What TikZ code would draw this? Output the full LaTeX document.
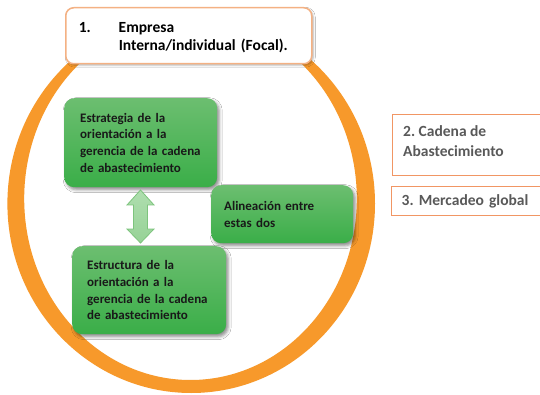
\documentclass[tikz,border=0pt]{standalone}
\usepackage{fontspec}
\setmainfont{Carlito}
\frenchspacing
\usetikzlibrary{shadows.blur}
\definecolor{ringor}{RGB}{247,153,43}
\definecolor{boxor}{RGB}{244,177,131}
\definecolor{rbor}{RGB}{241,150,100}
\definecolor{gtop}{RGB}{108,190,112}
\definecolor{gbot}{RGB}{58,174,72}
\definecolor{graytext}{RGB}{89,89,89}
\definecolor{arrtop}{RGB}{175,222,175}
\definecolor{arrbot}{RGB}{150,210,150}
\definecolor{arrdraw}{RGB}{125,196,125}
\begin{document}
\begin{tikzpicture}[x=1pt,y=-1pt,
  gbox/.style={rounded corners=10pt, top color=gtop, bottom color=gbot, draw=none,
    blur shadow={shadow xshift=2pt, shadow yshift=-2.5pt, shadow blur radius=3pt, shadow opacity=45},
    align=left, inner ysep=0pt, anchor=north west,
    font=\fontsize{13}{16.7}\selectfont\bfseries, text=black!90},
  topbox/.style={rounded corners=8pt, draw=boxor, line width=1.5pt, fill=white,
    blur shadow={shadow xshift=1.5pt, shadow yshift=-1.5pt, shadow blur radius=2pt, shadow opacity=30},
    anchor=north west, align=left, inner ysep=0pt,
    font=\fontsize{15.5}{18.3}\selectfont\bfseries, text=black},
  rbox/.style={draw=rbor, line width=1.3pt, fill=white, anchor=north west, inner ysep=0pt},
  rtext/.style={align=left, inner sep=0pt, font=\fontsize{15.5}{20}\selectfont\bfseries, text=graytext}
]
\useasboundingbox (0,0) rectangle (540,395);
\clip (0,0) rectangle (540,395);
\fill[white] (0,0) rectangle (540,395);

% orange ring
\fill[ringor, even odd rule]
  (191.2,203.6) ellipse [x radius=183.8, y radius=189.4]
  (190.5,198.7) ellipse [x radius=166.3, y radius=181.3];

% top box
\node[topbox, minimum width=246pt, minimum height=56pt, text width=220pt, inner xsep=13pt] (emp) at (65,7)
  {\raisebox{-2pt}[\height][\depth]{\begin{tabular}{@{}p{40pt}@{}l@{}}1.&Empresa\\&Interna/individual (Focal).\end{tabular}}};

% green boxes
\node[gbox, minimum width=153pt, minimum height=89pt, text width=121pt, inner xsep=16pt] (estr) at (64,98)
  {Estrategia de la\\orientación a la\\gerencia de la cadena\\de abastecimiento};
\node[gbox, minimum width=142pt, minimum height=58pt, text width=116pt, inner xsep=13pt] (alin) at (211,185)
  {Alineación entre\\estas dos};
\node[gbox, minimum width=154pt, minimum height=88pt, text width=124pt, inner xsep=15pt] (estc) at (72,246)
  {Estructura de la\\orientación a la\\gerencia de la cadena\\de abastecimiento};

% double block arrow
\draw[arrdraw, line width=0.8pt, top color=arrtop, bottom color=arrbot, line join=miter]
  (140.5,190) -- (154,205) -- (147.5,205) -- (147.5,229) -- (154,229) -- (140.5,243)
  -- (127,229) -- (133.5,229) -- (133.5,205) -- (127,205) -- cycle;

% right boxes
\node[rbox, minimum width=153pt, minimum height=61pt] (cad) at (392,114) {};
\node[rtext, anchor=north west] (cadt) at ([xshift=11pt,yshift=-11pt]cad.north west)
  {2. Cadena de\\Abastecimiento};
\node[rbox, minimum width=155pt, minimum height=29pt, text width=135pt, inner xsep=10pt,
  align=left, font=\fontsize{15.5}{20}\selectfont\bfseries, text=graytext] (merc) at (391,186)
  {3. Mercadeo global};
\end{tikzpicture}
\end{document}
